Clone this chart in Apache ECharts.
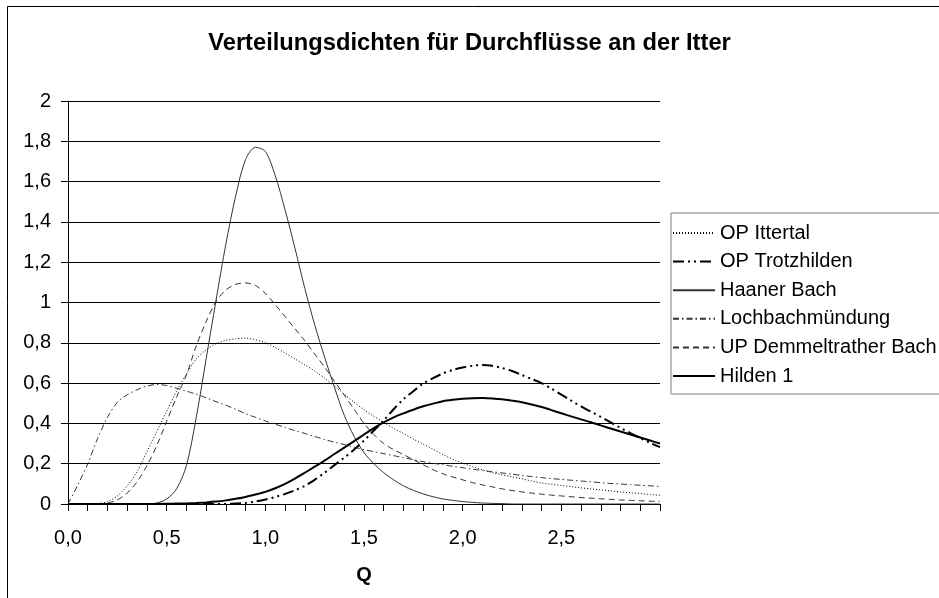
<!DOCTYPE html>
<html>
<head>
<meta charset="utf-8">
<title>Verteilungsdichten für Durchflüsse an der Itter</title>
<script src="https://cdn.jsdelivr.net/npm/echarts@6/dist/echarts.min.js"></script>
<style>
  html, body { margin: 0; padding: 0; background: #fff; }
  #chart { width: 939px; height: 598px; }
</style>
</head>
<body>
<div id="chart"></div>
<script>
// Q grid (step 0.05)
const qValues = [
  0.00, 0.05, 0.10, 0.15, 0.20, 0.25, 0.30, 0.35, 0.40, 0.45,
  0.50, 0.55, 0.60, 0.65, 0.70, 0.75, 0.80, 0.85, 0.90, 0.95,
  1.00, 1.05, 1.10, 1.15, 1.20, 1.25, 1.30, 1.35, 1.40, 1.45,
  1.50, 1.55, 1.60, 1.65, 1.70, 1.75, 1.80, 1.85, 1.90, 1.95,
  2.00, 2.05, 2.10, 2.15, 2.20, 2.25, 2.30, 2.35, 2.40, 2.45,
  2.50, 2.55, 2.60, 2.65, 2.70, 2.75, 2.80, 2.85, 2.90, 2.95,
  3.00
];

const opIttertal = [
  0, 0, 0, 0.002, 0.012, 0.04, 0.09, 0.16, 0.26, 0.36,
  0.46, 0.56, 0.645, 0.72, 0.765, 0.795, 0.812, 0.82, 0.823, 0.815,
  0.8, 0.777, 0.75, 0.72, 0.69, 0.66, 0.625, 0.585, 0.545, 0.505,
  0.468, 0.435, 0.405, 0.375, 0.35, 0.322, 0.297, 0.272, 0.245, 0.222,
  0.203, 0.185, 0.17, 0.156, 0.145, 0.135, 0.125, 0.114, 0.104, 0.098,
  0.092, 0.086, 0.08, 0.075, 0.07, 0.065, 0.06, 0.056, 0.052, 0.047,
  0.043
];

const opTrotzhilden = [
  0, 0, 0, 0, 0, 0, 0, 0, 0, 0,
  0, 0, 0, 0, 0, 0, 0, 0.002, 0.005, 0.012,
  0.022, 0.035, 0.05, 0.068, 0.09, 0.12, 0.155, 0.193, 0.23, 0.27,
  0.315, 0.365, 0.415, 0.47, 0.52, 0.56, 0.598, 0.625, 0.648, 0.665,
  0.677, 0.686, 0.69, 0.686, 0.675, 0.66, 0.64, 0.62, 0.6, 0.572,
  0.543, 0.513, 0.484, 0.458, 0.432, 0.405, 0.378, 0.352, 0.327, 0.303,
  0.282
];

const haanerBach = [
  0, 0, 0, 0, 0, 0, 0, 0, 0, 0.005,
  0.025, 0.075, 0.19, 0.43, 0.72, 1.01, 1.29, 1.53, 1.71, 1.77,
  1.75, 1.63, 1.46, 1.27, 1.07, 0.89, 0.73, 0.58, 0.44, 0.335,
  0.255, 0.2, 0.155, 0.12, 0.09, 0.068, 0.05, 0.036, 0.025, 0.018,
  0.012, 0.008, 0.005, 0.003, 0.002, 0, 0, 0, 0, 0,
  0, 0, 0, 0, 0, 0, 0, 0, 0, 0,
  0
];

const lochbachmuendung = [
  0, 0.095, 0.2, 0.325, 0.43, 0.505, 0.542, 0.567, 0.585, 0.593,
  0.588, 0.575, 0.56, 0.545, 0.527, 0.508, 0.49, 0.47, 0.448, 0.43,
  0.412, 0.396, 0.38, 0.364, 0.35, 0.335, 0.32, 0.307, 0.295, 0.282,
  0.27, 0.26, 0.25, 0.24, 0.23, 0.22, 0.21, 0.202, 0.195, 0.187,
  0.18, 0.173, 0.166, 0.16, 0.154, 0.148, 0.142, 0.136, 0.131, 0.126,
  0.122, 0.118, 0.114, 0.11, 0.106, 0.102, 0.099, 0.096, 0.093, 0.09,
  0.087
];

const upDemmeltratherBach = [
  0, 0, 0, 0, 0.005, 0.02, 0.055, 0.11, 0.19, 0.29,
  0.41, 0.53, 0.64, 0.785, 0.905, 1.005, 1.062, 1.09, 1.097, 1.085,
  1.045, 0.99, 0.93, 0.87, 0.81, 0.745, 0.68, 0.61, 0.54, 0.47,
  0.4, 0.345, 0.3, 0.27, 0.245, 0.22, 0.195, 0.17, 0.15, 0.134,
  0.12, 0.106, 0.095, 0.085, 0.075, 0.067, 0.06, 0.054, 0.049, 0.044,
  0.04, 0.036, 0.032, 0.029, 0.026, 0.023, 0.02, 0.018, 0.016, 0.014,
  0.013
];

const hilden1 = [
  0, 0, 0, 0, 0, 0, 0, 0, 0, 0,
  0.001, 0.002, 0.003, 0.005, 0.008, 0.012, 0.018, 0.026, 0.035, 0.047,
  0.06, 0.078, 0.1, 0.126, 0.155, 0.185, 0.215, 0.248, 0.28, 0.312,
  0.345, 0.377, 0.405, 0.43, 0.45, 0.468, 0.485, 0.498, 0.51, 0.517,
  0.522, 0.525, 0.526, 0.524, 0.52, 0.513, 0.505, 0.494, 0.481, 0.466,
  0.45, 0.435, 0.42, 0.406, 0.39, 0.375, 0.36, 0.345, 0.33, 0.315,
  0.3
];

const seriesNames = [
  "OP Ittertal",
  "OP Trotzhilden",
  "Haaner Bach",
  "Lochbachmündung",
  "UP Demmeltrather Bach",
  "Hilden 1",
];

const fontFamily = "Liberation Sans, Arial, sans-serif";
const comma = (v) => String(+v.toFixed(1)).replace(".", ",");

function pairs(values) {
  return qValues.map((q, i) => [q, values[i]]);
}

const lineStyles = [
  { color: "#000", width: 1, type: [1, 2] },
  { color: "#000", width: 2, type: [11, 4, 2, 4, 2, 4] },
  { color: "#333", width: 1, type: "solid" },
  { color: "#333", width: 1, type: [6, 3, 1.5, 3] },
  { color: "#333", width: 1, type: [6, 4] },
  { color: "#000", width: 2, type: "solid" },
];
const seriesData = [opIttertal, opTrotzhilden, haanerBach, lochbachmuendung, upDemmeltratherBach, hilden1];

const chart = echarts.init(document.getElementById("chart"));

chart.setOption({
  animation: false,
  backgroundColor: "#fff",
  title: {
    text: "Verteilungsdichten für Durchflüsse an der Itter",
    left: "center",
    top: 31,
    padding: 0,
    textStyle: { fontFamily, fontSize: 23.7, fontWeight: "bold", color: "#000" },
  },
  legend: {
    orient: "vertical",
    left: 671,
    top: 213,
    padding: [10, 5, 8, 1],
    itemGap: 8.6,
    itemWidth: 42,
    itemHeight: 14,
    borderColor: "#808080",
    borderWidth: 1,
    backgroundColor: "#fff",
    itemStyle: { opacity: 0 },
    textStyle: { fontFamily, fontSize: 20, color: "#000", lineHeight: 20 },
    data: seriesNames,
  },
  grid: { left: 68, right: 279, top: 101, bottom: 94, containLabel: false },
  xAxis: {
    type: "value",
    min: 0,
    max: 3,
    interval: 0.1,
    name: "Q",
    nameLocation: "middle",
    nameGap: 61,
    nameTextStyle: { fontFamily, fontSize: 20, fontWeight: "bold", color: "#000" },
    axisLine: { lineStyle: { color: "#000", width: 1 } },
    axisTick: { show: true, length: 7, lineStyle: { color: "#000" } },
    axisLabel: {
      margin: 24,
      fontFamily,
      fontSize: 20,
      color: "#000",
      showMaxLabel: true,
      formatter: (v) => {
        const h = v * 2;
        if (Math.abs(h - Math.round(h)) > 1e-6 || v > 2.99) return "";
        return v.toFixed(1).replace(".", ",");
      },
    },
    splitLine: { show: false },
  },
  yAxis: {
    type: "value",
    min: 0,
    max: 2,
    interval: 0.2,
    axisLine: { show: true, lineStyle: { color: "#000", width: 1 } },
    axisTick: { show: true, length: 7, lineStyle: { color: "#000" } },
    axisLabel: { margin: 17, fontFamily, fontSize: 20, color: "#000", formatter: comma },
    splitLine: { show: true, lineStyle: { color: "#000", width: 1 } },
  },
  graphic: [
    { type: "line", shape: { x1: 7.5, y1: 6.5, x2: 939, y2: 6.5 }, style: { stroke: "#000", lineWidth: 1 } },
    { type: "line", shape: { x1: 7.5, y1: 6.5, x2: 7.5, y2: 598 }, style: { stroke: "#000", lineWidth: 1 } },
  ],
  series: seriesNames.map((name, i) => ({
    name,
    type: "line",
    data: pairs(seriesData[i]),
    smooth: 0.3,
    showSymbol: false,
    symbol: "none",
    lineStyle: lineStyles[i],
    itemStyle: { color: lineStyles[i].color },
    z: i === 1 || i === 5 ? 3 : 2,
  })),
});
</script>
</body>
</html>
